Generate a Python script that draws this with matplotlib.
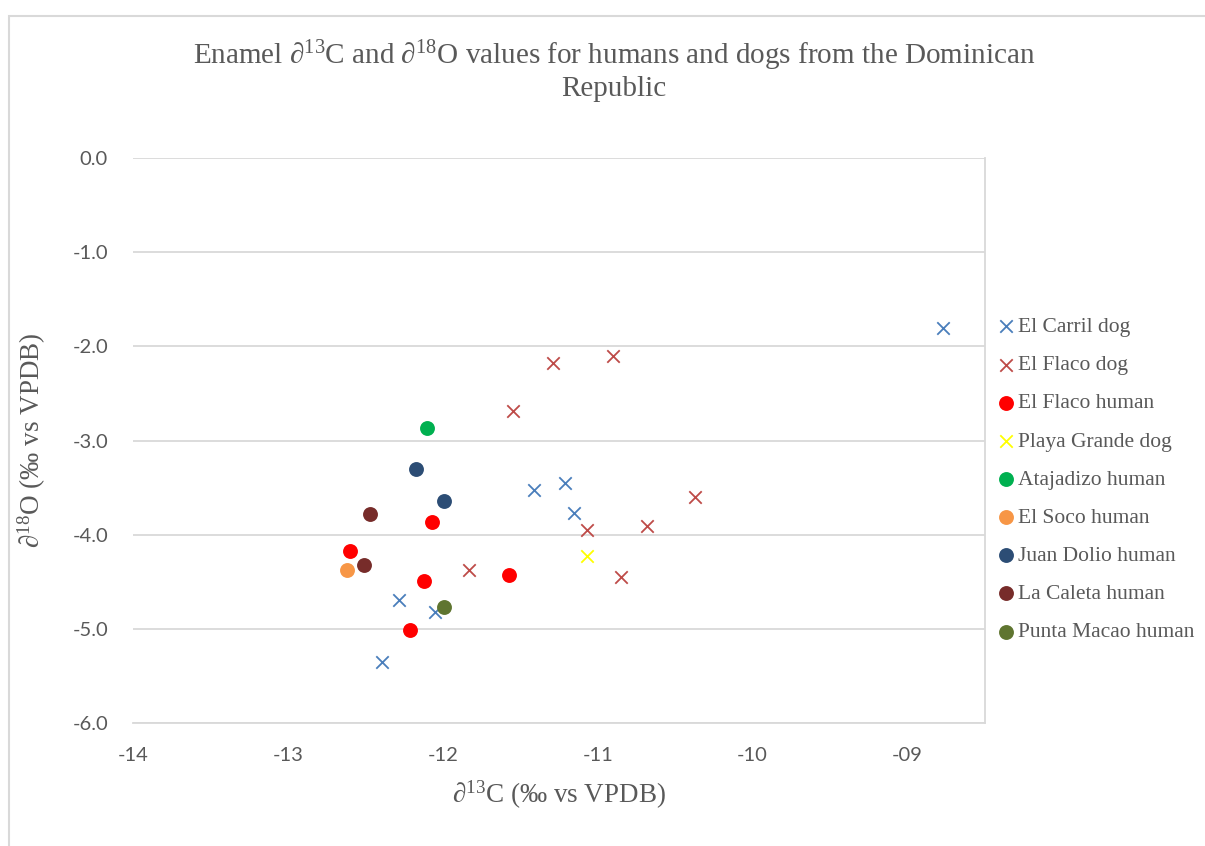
# Enamel d13C / d18O scatter, humans and dogs, Dominican Republic

import matplotlib
matplotlib.use('Agg')
from matplotlib import pyplot as plt
from matplotlib.patches import Rectangle

plt.rcParams['mathtext.default'] = 'regular'

# data
el_carril_dog_x = [-8.77, -11.41, -11.21, -11.15, -12.28, -12.05, -12.39]
el_carril_dog_y = [-1.80, -3.53, -3.45, -3.77, -4.69, -4.82, -5.35]

el_flaco_dog_x = [-11.29, -10.90, -11.55, -10.37, -11.07, -10.68, -10.85, -11.83]
el_flaco_dog_y = [-2.18, -2.10, -2.69, -3.60, -3.95, -3.91, -4.45, -4.37]

el_flaco_human_x = [-12.60, -12.07, -12.12, -12.21, -11.57]
el_flaco_human_y = [-4.17, -3.87, -4.49, -5.01, -4.43]

playa_grande_dog_x = [-11.07]
playa_grande_dog_y = [-4.23]

atajadizo_human_x = [-12.10]
atajadizo_human_y = [-2.87]

el_soco_human_x = [-12.62]
el_soco_human_y = [-4.37]

juan_dolio_human_x = [-12.17, -11.99]
juan_dolio_human_y = [-3.30, -3.64]

la_caleta_human_x = [-12.47, -12.51]
la_caleta_human_y = [-3.78, -4.32]

punta_macao_human_x = [-11.99]
punta_macao_human_y = [-4.77]

x_ticks = [-14, -13, -12, -11, -10, -9]
x_tick_labels = ['-14', '-13', '-12', '-11', '-10', '-09']
y_ticks = [0, -1, -2, -3, -4, -5, -6]

series = [
    ('El Carril dog', el_carril_dog_x, el_carril_dog_y, 'x', '#4A7EBB'),
    ('El Flaco dog', el_flaco_dog_x, el_flaco_dog_y, 'x', '#BE4B48'),
    ('El Flaco human', el_flaco_human_x, el_flaco_human_y, 'o', '#FF0000'),
    ('Playa Grande dog', playa_grande_dog_x, playa_grande_dog_y, 'x', '#FFFF00'),
    ('Atajadizo human', atajadizo_human_x, atajadizo_human_y, 'o', '#00B050'),
    ('El Soco human', el_soco_human_x, el_soco_human_y, 'o', '#F79646'),
    ('Juan Dolio human', juan_dolio_human_x, juan_dolio_human_y, 'o', '#2C4D75'),
    ('La Caleta human', la_caleta_human_x, la_caleta_human_y, 'o', '#772C2A'),
    ('Punta Macao human', punta_macao_human_x, punta_macao_human_y, 'o', '#5F7530'),
]

W, H = 1205, 846
fig = plt.figure(figsize=(W / 100, H / 100), dpi=100)
ax = fig.add_axes([133 / W, 1 - 723 / H, (985 - 133) / W, (723 - 158) / H])

# chart outline (Excel chart area border)
fig.patches.append(Rectangle((9 / W, -0.1), 1.2, 1 - 16 / H + 0.1,
                             transform=fig.transFigure, fill=False,
                             edgecolor='#d9d9d9', linewidth=1.5))

for name, xs, ys, m, c in series:
    if m == 'x':
        ax.scatter(xs, ys, marker='x', s=80, color=c, linewidths=1.3, label=name, zorder=3)
    else:
        ax.scatter(xs, ys, marker='o', s=115, color=c, linewidths=0, label=name, zorder=3)

ax.set_xlim(-14, -8.5)
ax.set_ylim(-6, 0)
ax.set_xticks(x_ticks)
ax.set_xticklabels(x_tick_labels)
ax.set_yticks(y_ticks)
ax.set_yticklabels([f'{v:.1f}' for v in y_ticks])
ax.tick_params(length=0, labelsize=14.5, labelcolor='#595959')
ax.tick_params(axis='x', pad=17)
ax.tick_params(axis='y', pad=18)
for lab in ax.get_xticklabels() + ax.get_yticklabels():
    lab.set_fontfamily('Lato')
ax.grid(axis='y', color='#d9d9d9', linewidth=1.3)
ax.set_axisbelow(True)
for side in ['left', 'top']:
    ax.spines[side].set_visible(False)
for side in ['right', 'bottom']:
    ax.spines[side].set_color('#d9d9d9')
    ax.spines[side].set_linewidth(1.3)

serif = 'Liberation Serif'
fig.text(614 / W, 1 - 56 / H,
         'Enamel \u2202$^{13}$C and \u2202$^{18}$O values for humans and dogs from the Dominican',
         ha='center', va='center', fontsize=21, family=serif, color='#595959')
fig.text(614 / W, 1 - 89 / H, 'Republic',
         ha='center', va='center', fontsize=21, family=serif, color='#595959')
fig.text(559 / W, 1 - 795 / H, '\u2202$^{13}$C (\u2030 vs VPDB)',
         ha='center', va='center', fontsize=19.5, family=serif, color='#595959')
fig.text(32 / W, 1 - 440 / H, '\u2202$^{18}$O (\u2030 vs VPDB)', rotation=90,
         ha='center', va='center', fontsize=19.5, family=serif, color='#595959')

leg = fig.legend(loc='upper left', bbox_to_anchor=(994 / W, 1 - 317 / H),
                 frameon=False, handletextpad=0.0, labelspacing=0.84,
                 prop={'family': serif, 'size': 15.5}, handlelength=1.1,
                 borderaxespad=0, borderpad=0)
for t in leg.get_texts():
    t.set_color('#595959')

fig.savefig('out.png', dpi=100)
